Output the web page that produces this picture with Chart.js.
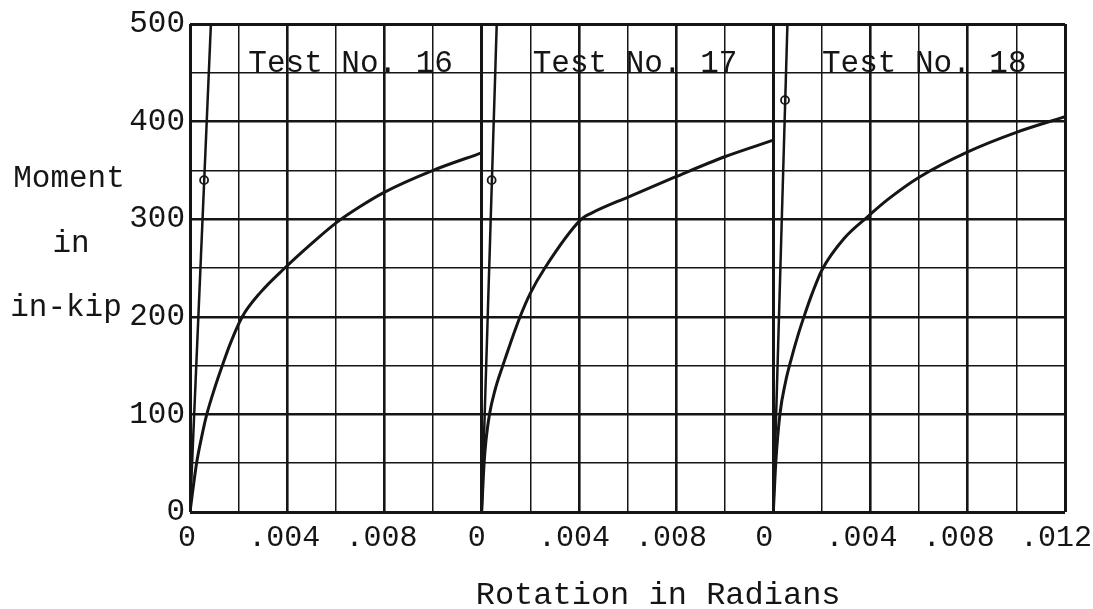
<!DOCTYPE html>
<html>
<head>
<meta charset="utf-8">
<title>Moment vs Rotation, Tests 16-18</title>
<script src="https://cdn.jsdelivr.net/npm/chart.js@4.4.1/dist/chart.umd.min.js"></script>
<style>
    html, body { margin: 0; padding: 0; background: #fff; }
</style>
</head>
<body>
<canvas id="momentGraph" width="1093" height="609"></canvas>
<script>
// rotation in radians / moment in in-kip (one panel per test)
const test16Rot = [0, 0.00027, 0.00048, 0.00069, 0.00103, 0.00133, 0.00165, 0.00215, 0.0029, 0.0039, 0.0050, 0.00605, 0.0070, 0.00795, 0.0100, 0.0120];
const test16Mom = [0, 50, 77, 100, 128, 150, 172, 200, 225, 250, 275, 297, 313, 327, 350, 368];

const test17Rot = [0, 0.0001, 0.00018, 0.00032, 0.00055, 0.00087, 0.00117, 0.00158, 0.0020, 0.0026, 0.0041, 0.0045, 0.00605, 0.00794, 0.0100, 0.0120];
const test17Mom = [0, 50, 74, 100, 125, 150, 172, 200, 224, 250, 300, 306, 323, 343, 364, 381];

const test18Rot = [0, 0.0001, 0.00027, 0.0005, 0.00075, 0.0010, 0.0013, 0.0016, 0.0020, 0.0029, 0.0039, 0.0047, 0.0060, 0.0080, 0.0100, 0.0120];
const test18Mom = [0, 50, 100, 133, 158, 180, 203, 224, 248, 280, 303, 320, 343, 369, 389, 405];

// straight elastic lines and the small circle marked on each
const elasticRot = [0.00086, 0.00062, 0.00058];
const elasticMom = [500, 500, 500];
const circleRot = [0.00058, 0.00041, 0.00048];
const circleMom = [340, 340, 422];

const panelTitles = ['Test No. 16', 'Test No. 17', 'Test No. 18'];
const xTickLabels = { 0: '0', 4: '.004', 8: '.008', 12: '.012' };
const yTickLabels = { 0: '0', 100: '100', 200: '200', 300: '300', 400: '400', 500: '500' };
const yTitleLines = ['Moment', 'in', 'in-kip'];
const xTitle = 'Rotation in Radians';

const ink = '#151515';
const typeFont = '"Liberation Mono", "Courier New", monospace';

const curves = [[test16Rot, test16Mom], [test17Rot, test17Mom], [test18Rot, test18Mom]];

const datasets = [];
curves.forEach(([rot, mom], i) => {
    const axis = 'x' + (i + 1);
    datasets.push({
        label: panelTitles[i],
        data: rot.map((r, k) => ({ x: r, y: mom[k] })),
        xAxisID: axis,
        showLine: true,
        borderColor: ink,
        borderWidth: 3,
        pointRadius: 0,
        cubicInterpolationMode: 'monotone'
    });
    datasets.push({
        label: panelTitles[i] + ' elastic',
        data: [{ x: 0, y: 0 }, { x: elasticRot[i], y: elasticMom[i] }],
        xAxisID: axis,
        showLine: true,
        borderColor: ink,
        borderWidth: 2.5,
        pointRadius: 0
    });
    datasets.push({
        label: panelTitles[i] + ' mark',
        data: [{ x: circleRot[i], y: circleMom[i] }],
        xAxisID: axis,
        showLine: false,
        pointRadius: 4,
        pointBorderWidth: 1.8,
        pointBorderColor: ink,
        pointBackgroundColor: '#fff'
    });
});

function rotAxis(panel, shift) {
    return {
        type: 'linear',
        position: 'bottom',
        stack: 'rotation',
        stackWeight: 1,
        min: 0,
        max: 0.012,
        border: { display: false },
        grid: {
            color: ink,
            drawTicks: false,
            lineWidth: ctx => {
                const k = Math.round(ctx.tick.value * 1000);
                if (k === 0 || k === 12) return 3;
                return k % 4 === 0 ? 2.6 : 1.5;
            }
        },
        ticks: {
            stepSize: 0.002,
            autoSkip: false,
            maxRotation: 0,
            padding: 8,
            labelOffset: shift,
            color: ink,
            font: { family: typeFont, size: 30 },
            callback: v => {
                const k = Math.round(v * 1000);
                if (k === 12 && panel < 3) return '';
                return xTickLabels[k] || '';
            }
        },
        afterFit: s => {
            s.height = 97;
            s.paddingLeft = 0;
            s.paddingRight = 0;
        }
    };
}

const paperText = {
    id: 'paperText',
    afterDraw(chart) {
        const { ctx, chartArea, scales } = chart;
        ctx.save();
        ctx.fillStyle = ink;
        ctx.textBaseline = 'alphabetic';
        ctx.font = '31px ' + typeFont;
        ctx.textAlign = 'left';
        const titleAt = [0.0024, 0.0021, 0.002];
        panelTitles.forEach((t, i) => {
            ctx.fillText(t, scales['x' + (i + 1)].getPixelForValue(titleAt[i]), 72);
        });
        ctx.textAlign = 'center';
        const yTitleBase = [187, 252, 316];
        const yTitleX = [69, 71, 66];
        yTitleLines.forEach((t, i) => ctx.fillText(t, yTitleX[i], yTitleBase[i]));
        ctx.font = '32px ' + typeFont;
        ctx.fillText(xTitle, chartArea.left + 0.535 * (chartArea.right - chartArea.left), 604);
        ctx.restore();
    }
};

new Chart(document.getElementById('momentGraph').getContext('2d'), {
    type: 'scatter',
    data: { datasets: datasets },
    options: {
        responsive: false,
        animation: false,
        devicePixelRatio: 1,
        layout: { padding: { left: 0, top: 24, right: 28, bottom: 0 } },
        plugins: {
            legend: { display: false },
            tooltip: { enabled: false }
        },
        scales: {
            x1: rotAxis(1, -3),
            x2: rotAxis(2, -5),
            x3: rotAxis(3, -9),
            y: {
                type: 'linear',
                min: 0,
                max: 500,
                border: { display: false },
                grid: {
                    color: ink,
                    drawTicks: false,
                    lineWidth: ctx => {
                        const v = ctx.tick.value;
                        if (v === 0 || v === 500) return 3;
                        return v % 100 === 0 ? 2.6 : 1.5;
                    }
                },
                ticks: {
                    stepSize: 50,
                    padding: 5,
                    color: ink,
                    font: { family: typeFont, size: 31 },
                    callback: v => yTickLabels[v] || ''
                },
                afterFit: s => { s.width = 190; }
            }
        }
    },
    plugins: [paperText]
});
</script>
</body>
</html>
